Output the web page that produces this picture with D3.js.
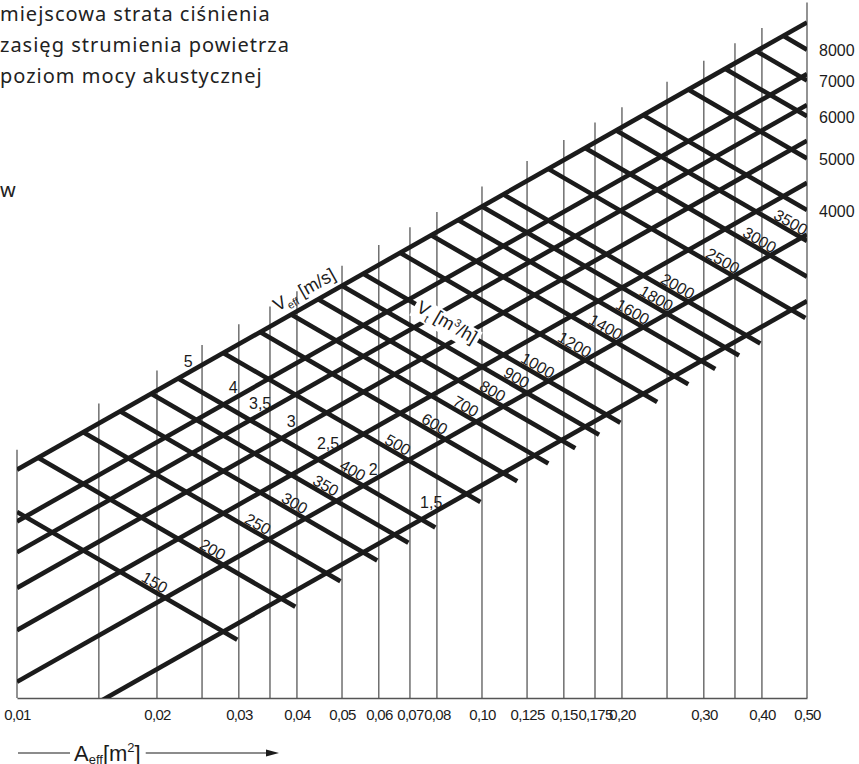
<!DOCTYPE html>
<html>
<head>
<meta charset="utf-8">
<script src="https://cdn.jsdelivr.net/npm/d3@7"></script>
<style>
body { margin: 0; background: #fff; }
svg { display: block; }
</style>
</head>
<body>
<div id="graph"></div>
<script>
// A_eff [m2] - vertical grid lines and the labelled ones
var areaLines = [0.01, 0.015, 0.02, 0.025, 0.03, 0.035, 0.04, 0.05, 0.06, 0.07, 0.08,
                 0.10, 0.125, 0.15, 0.175, 0.20, 0.25, 0.30, 0.35, 0.40, 0.50];
var areaTicks = [0.01, 0.02, 0.03, 0.04, 0.05, 0.06, 0.07, 0.08, 0.10, 0.125, 0.15, 0.175, 0.20, 0.30, 0.40, 0.50];
var areaTickLabels = ["0,01", "0,02", "0,03", "0,04", "0,05", "0,06", "0,07", "0,08", "0,10",
                      "0,125", "0,15", "0,175", "0,20", "0,30", "0,40", "0,50"];

// V_eff [m/s] - rising lines
var veffValues = [5, 4, 3.5, 3, 2.5, 2, 1.5];
var veffLabels = ["5", "4", "3,5", "3", "2,5", "2", "1,5"];

// V_t [m3/h] - falling lines
var vtValues = [150, 200, 250, 300, 350, 400, 500, 600, 700, 800, 900, 1000, 1200, 1400,
                1600, 1800, 2000, 2500, 3000, 3500, 4000, 5000, 6000, 7000, 8000];
var vtLabels = ["150", "200", "250", "300", "350", "400", "500", "600", "700", "800", "900", "1000", "1200", "1400",
                "1600", "1800", "2000", "2500", "3000", "3500", "4000", "5000", "6000", "7000", "8000"];
var vtSideValues = [4000, 5000, 6000, 7000, 8000];   // labelled at the right edge

var legendLines = ["miejscowa strata ciśnienia", "zasięg strumienia powietrza", "poziom mocy akustycznej"];

var width = 859;
var height = 764;
var axisY = 698;
var shear = 0.58;          // slope of the V_t lines
var vEnd = 1.4;            // V_t lines run a bit past the last V_eff line
var vGridTop = 5.45;       // grid lines stick out above the top V_eff line
var vtLabelVeff = 2.15;    // where the V_t numbers sit along their line
var veffLabelVt = 420;     // where the V_eff numbers sit along their line

var ink = "#1b1b1b";

var svg = d3.select('#graph')
    .append('svg')
    .attr('width', width)
    .attr('height', height)
    .attr('font-family', '"Liberation Sans", Arial, sans-serif')
    .attr('fill', ink);

var x = d3.scaleLog().domain([0.01, 0.5]).range([17, 807]);
var flow = d3.scaleLog().domain([1000, 10000]).range([531, -2]);

// point of the (A_eff, V_t) plane
function pt(A, vt) {
    var px = x(A);
    return [px, flow(vt) + shear * (px - x.range()[1])];
}
function onVeff(A, v) { return pt(A, 3600 * v * A); }

var vTop = d3.max(veffValues);

svg.append("clipPath").attr("id", "plot")
    .append("rect")
    .attr("x", x(0.01)).attr("y", 0)
    .attr("width", x(0.5) - x(0.01)).attr("height", axisY);

// thin vertical lines
svg.append("g")
    .selectAll("line")
    .data(areaLines)
    .enter()
    .append("line")
    .attr("x1", function(d) { return x(d); })
    .attr("x2", function(d) { return x(d); })
    .attr("y1", axisY)
    .attr("y2", function(d) { return onVeff(d, vGridTop)[1]; })
    .attr("stroke", "#3a3a3a")
    .attr("stroke-width", 1.1);

// bottom axis
var xAxis = d3.axisBottom(x)
    .tickValues(areaTicks)
    .tickFormat(function(d, i) { return areaTickLabels[i]; })
    .tickSize(0)
    .tickPadding(11);
var ax = svg.append("g").attr("transform", "translate(0," + axisY + ")").call(xAxis);
ax.attr("font-family", null).attr("font-size", null);
ax.select(".domain").attr("stroke", "#555").attr("stroke-width", 1.5);
ax.selectAll("text")
    .attr("font-size", 15)
    .attr("letter-spacing", -0.7)
    .attr("fill", ink);

var lines = svg.append("g").attr("clip-path", "url(#plot)");

// V_eff lines
lines.selectAll("line.veff")
    .data(veffValues)
    .enter()
    .append("line")
    .attr("class", "veff")
    .attr("x1", function(d) { return onVeff(0.01, d)[0]; })
    .attr("y1", function(d) { return onVeff(0.01, d)[1]; })
    .attr("x2", function(d) { return onVeff(0.5, d)[0]; })
    .attr("y2", function(d) { return onVeff(0.5, d)[1]; })
    .attr("stroke", ink)
    .attr("stroke-width", 4.6);

// V_t lines
function vtStart(vt) { return Math.max(0.01, vt / (3600 * vTop)); }
function vtEnd(vt) { return Math.min(0.5, vt / (3600 * vEnd)); }
lines.selectAll("line.vt")
    .data(vtValues)
    .enter()
    .append("line")
    .attr("class", "vt")
    .attr("x1", function(d) { return pt(vtStart(d), d)[0]; })
    .attr("y1", function(d) { return pt(vtStart(d), d)[1]; })
    .attr("x2", function(d) { return pt(vtEnd(d), d)[0]; })
    .attr("y2", function(d) { return pt(vtEnd(d), d)[1]; })
    .attr("stroke", ink)
    .attr("stroke-width", 4.6);

var vtAngle = Math.atan(shear) * 180 / Math.PI;
var r0 = onVeff(0.01, vTop), r1 = onVeff(0.5, vTop);
var veffAngle = Math.atan2(r1[1] - r0[1], r1[0] - r0[0]) * 180 / Math.PI;

// V_t numbers along the lines
svg.append("g")
    .selectAll("g")
    .data(vtValues.filter(function(d) { return vtSideValues.indexOf(d) < 0; }))
    .enter()
    .append("g")
    .attr("transform", function(d) {
        var p = pt(d / (3600 * vtLabelVeff), d);
        return "translate(" + p[0] + "," + p[1] + ") rotate(" + vtAngle + ")";
    })
    .append("text")
    .attr("y", -8)
    .attr("text-anchor", "middle")
    .attr("dominant-baseline", "central")
    .attr("font-size", 16)
    .text(function(d) { return vtLabels[vtValues.indexOf(d)]; });

// V_t numbers at the right edge
svg.append("g")
    .selectAll("text")
    .data(vtSideValues)
    .enter()
    .append("text")
    .attr("x", x(0.5) + 12)
    .attr("y", function(d) { return pt(0.5, d)[1] + 1; })
    .attr("dominant-baseline", "central")
    .attr("font-size", 16)
    .text(function(d) { return vtLabels[vtValues.indexOf(d)]; });

// V_eff numbers
svg.append("g")
    .selectAll("text")
    .data(veffValues)
    .enter()
    .append("text")
    .attr("x", function(d) { return onVeff(veffLabelVt / (3600 * d), d)[0]; })
    .attr("y", function(d) { return onVeff(veffLabelVt / (3600 * d), d)[1] - 11; })
    .attr("text-anchor", "middle")
    .attr("dominant-baseline", "central")
    .attr("font-size", 16)
    .text(function(d, i) { return veffLabels[i]; });

// V_eff title above the top line
var pv = onVeff(0.043, vTop);
var tv = svg.append("g")
    .attr("transform", "translate(" + pv[0] + "," + pv[1] + ") rotate(" + veffAngle + ")")
    .append("text")
    .attr("y", -9)
    .attr("text-anchor", "middle")
    .attr("font-size", 18);
tv.append("tspan").text("V");
tv.append("tspan").attr("font-size", 11).attr("dy", 4).text("eff");
tv.append("tspan").attr("dx", 5).attr("dy", -4).text("[m/s]");

// V_t title sitting on the 1000 line
var pt1 = pt(0.0841, 1000);
var gt = svg.append("g")
    .attr("transform", "translate(" + pt1[0] + "," + pt1[1] + ") rotate(" + vtAngle + ")");
var bg = gt.append("rect").attr("fill", "#fff");
var tt = gt.append("text")
    .attr("y", 6)
    .attr("text-anchor", "middle")
    .attr("font-size", 18);
tt.append("tspan").text("V");
tt.append("tspan").attr("font-size", 11).attr("dy", 5).text("t");
tt.append("tspan").attr("dx", 5).attr("dy", -5).text("[m");
tt.append("tspan").attr("font-size", 11).attr("dy", -7).text("3");
tt.append("tspan").attr("dy", 7).text("/h]");
var bb = tt.node().getBBox();
bg.attr("x", bb.x - 3).attr("y", bb.y + 2).attr("width", bb.width + 6).attr("height", bb.height - 2);

// A_eff title with arrow
var at = svg.append("text")
    .attr("x", 74)
    .attr("y", 761)
    .attr("font-size", 22);
at.append("tspan").text("A");
at.append("tspan").attr("font-size", 13).attr("dy", 3).text("eff");
at.append("tspan").attr("dy", -3).text("[m");
at.append("tspan").attr("font-size", 13).attr("dy", -9).text("2");
at.append("tspan").attr("dy", 9).text("]");
var ab = at.node().getBBox();
svg.append("line").attr("x1", 18).attr("x2", ab.x - 4).attr("y1", 753).attr("y2", 753)
    .attr("stroke", ink).attr("stroke-width", 1.2);
svg.append("line").attr("x1", ab.x + ab.width + 5).attr("x2", 266).attr("y1", 753).attr("y2", 753)
    .attr("stroke", ink).attr("stroke-width", 1.2);
svg.append("path").attr("d", "M266,749.5 L279,753 L266,756.5 Z").attr("fill", ink);

// cut-off legend texts at the top left
svg.append("g")
    .selectAll("text")
    .data(legendLines)
    .enter()
    .append("text")
    .attr("x", 0)
    .attr("y", function(d, i) { return 21 + i * 31; })
    .attr("font-family", '"Noto Sans", sans-serif')
    .attr("font-size", 20)
    .attr("letter-spacing", 1)
    .attr("fill", "#222")
    .text(function(d) { return d; });
svg.append("text")
    .attr("x", 0).attr("y", 197)
    .attr("font-family", '"Noto Sans", sans-serif')
    .attr("font-size", 20)
    .attr("fill", "#222")
    .text("w");
</script>
</body>
</html>
